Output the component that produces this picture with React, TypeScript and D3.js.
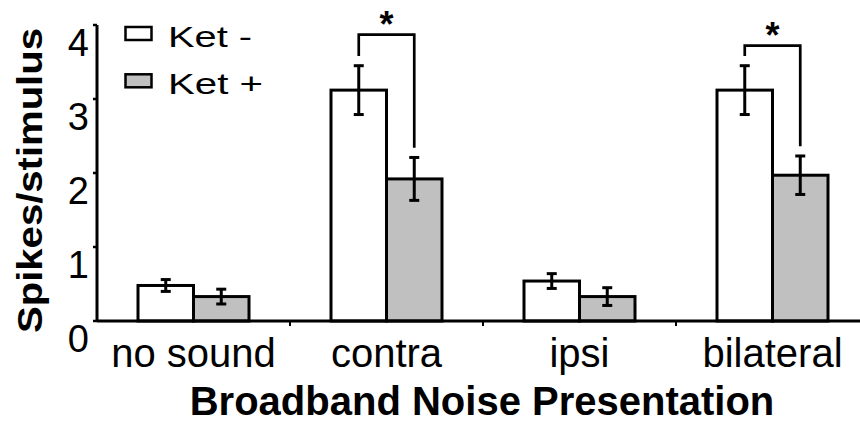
import React from "react";
import * as d3 from "d3";

// Mean spikes per stimulus for each presentation condition
const categories = ["no sound", "contra", "ipsi", "bilateral"];
const seriesNames = ["Ket -", "Ket +"];
const ketMinus = [0.48, 3.12, 0.54, 3.12];
const ketPlus = [0.33, 1.92, 0.33, 1.97];
const ketMinusErr = [0.08, 0.33, 0.1, 0.33];
const ketPlusErr = [0.1, 0.29, 0.12, 0.26];
const yTicks = [0, 1, 2, 3, 4];
// Significant Ket- vs Ket+ comparisons: category and bracket top value
const sigCategories = ["contra", "bilateral"];
const sigTops = [3.87, 3.72];

const W = 860;
const H = 423;
const FONT = "'Liberation Sans', Arial, Helvetica, sans-serif";
const fills = ["#ffffff", "#c0c0c0"];

export default function App() {
  const y = d3.scaleLinear().domain([0, 4]).range([321, 25]);
  const x = d3.scaleBand<string>().domain(categories).range([97, 869]).paddingInner(0).paddingOuter(0);
  const barW = 55.5;
  const bw = x.bandwidth();
  const series = [
    { values: ketMinus, errs: ketMinusErr },
    { values: ketPlus, errs: ketPlusErr },
  ];
  const barLeft = (cat: string, s: number) => (x(cat) as number) + bw / 2 - barW + s * barW;
  const capHalf = 5;
  const legGap = 0.13;

  return (
    <svg width={W} height={H} style={{ position: "absolute", left: 0, top: 0, background: "#fff" }}>
      {/* bars */}
      {series.map((s, si) =>
        categories.map((cat, ci) => (
          <rect
            key={`b-${si}-${ci}`}
            x={barLeft(cat, si)}
            y={y(s.values[ci])}
            width={barW}
            height={y(0) - y(s.values[ci])}
            fill={fills[si]}
            stroke="#000"
            strokeWidth={3}
          />
        ))
      )}
      {/* error bars */}
      {series.map((s, si) =>
        categories.map((cat, ci) => {
          const cx = barLeft(cat, si) + barW / 2;
          const top = y(s.values[ci] + s.errs[ci]);
          const bot = y(s.values[ci] - s.errs[ci]);
          return (
            <g key={`e-${si}-${ci}`} stroke="#000" strokeWidth={3}>
              <line x1={cx} x2={cx} y1={top} y2={bot} />
              <line x1={cx - capHalf} x2={cx + capHalf} y1={top} y2={top} />
              <line x1={cx - capHalf} x2={cx + capHalf} y1={bot} y2={bot} />
            </g>
          );
        })
      )}
      {/* significance brackets */}
      {sigCategories.map((cat, i) => {
        const ci = categories.indexOf(cat);
        const xl = barLeft(cat, 0) + barW / 2;
        const xr = barLeft(cat, 1) + barW / 2;
        const yt = y(sigTops[i]);
        const yl = y(ketMinus[ci] + ketMinusErr[ci] + legGap);
        const yr = y(ketPlus[ci] + ketPlusErr[ci] + legGap);
        return (
          <g key={`s-${i}`}>
            <path
              d={`M${xl},${yl}V${yt}H${xr}V${yr}`}
              fill="none"
              stroke="#000"
              strokeWidth={2.7}
            />
            <text
              x={(xl + xr) / 2}
              y={yt + 2.5}
              textAnchor="middle"
              fontFamily={FONT}
              fontWeight="bold"
              fontSize={36}
            >
              *
            </text>
          </g>
        );
      })}
      {/* baseline and category separators */}
      <line x1={97} x2={W} y1={y(0)} y2={y(0)} stroke="#000" strokeWidth={3} />
      {categories.slice(1).map((cat) => (
        <line
          key={`sep-${cat}`}
          x1={x(cat) as number}
          x2={x(cat) as number}
          y1={y(0)}
          y2={y(0) + 5}
          stroke="#000"
          strokeWidth={2}
        />
      ))}
      {/* y axis */}
      <line x1={97} x2={97} y1={y(4)} y2={y(0)} stroke="#000" strokeWidth={3} />
      {yTicks.map((t) => (
        <g key={`t-${t}`}>
          <line x1={93} x2={97} y1={y(t)} y2={y(t)} stroke="#000" strokeWidth={2.5} />
          <text x={89} y={y(t) + 31} textAnchor="end" fontFamily={FONT} fontSize={38}>
            {t}
          </text>
        </g>
      ))}
      {/* category labels */}
      {categories.map((cat) => (
        <text
          key={`c-${cat}`}
          x={(x(cat) as number) + bw / 2}
          y={366.7}
          textAnchor="middle"
          fontFamily={FONT}
          fontSize={40}
        >
          {cat}
        </text>
      ))}
      {/* axis titles */}
      <text x={482} y={415} textAnchor="middle" fontFamily={FONT} fontWeight="bold" fontSize={40}>
        Broadband Noise Presentation
      </text>
      <text
        transform="translate(42,180.5) rotate(-90)"
        textAnchor="middle"
        fontFamily={FONT}
        fontWeight="bold"
        fontSize={35}
        textLength={305}
        lengthAdjust="spacingAndGlyphs"
      >
        Spikes/stimulus
      </text>
      {/* legend */}
      {seriesNames.map((name, i) => (
        <g key={`l-${i}`} transform={`translate(0,${i * 47.3})`}>
          <rect x={125.5} y={27} width={26} height={13} fill={fills[i]} stroke="#000" strokeWidth={2.5} />
          <text
            x={168}
            y={46.7}
            fontFamily={FONT}
            fontSize={30}
            textLength={i === 0 ? 84 : 95}
            lengthAdjust="spacingAndGlyphs"
          >
            {name}
          </text>
        </g>
      ))}
    </svg>
  );
}
